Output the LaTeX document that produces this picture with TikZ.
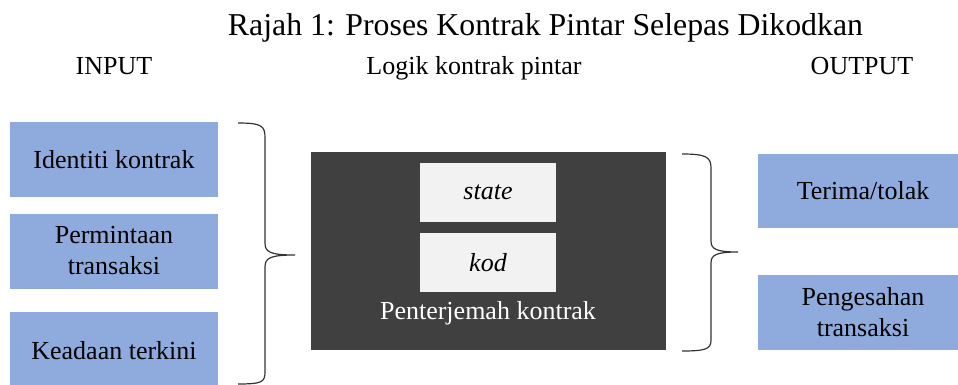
\documentclass[tikz,border=0pt]{standalone}
\usepackage{fontspec}
\setmainfont{Liberation Serif}
\newfontfamily\diagfont{Liberation Serif}
\usepackage{tikz}
\usetikzlibrary{positioning}

\definecolor{inblue}{HTML}{8FAADC}
\definecolor{darkbox}{HTML}{404040}
\definecolor{lightbox}{HTML}{F2F2F2}

\begin{document}
\begin{tikzpicture}[x=1pt, y=-1pt,
    bluebox/.style={fill=inblue, minimum width=208pt, minimum height=75pt,
      inner sep=0pt, align=center, font=\diagfont\fontsize{26}{31}\selectfont},
    lightcell/.style={fill=lightbox, minimum width=136pt, minimum height=59pt,
      inner sep=0pt, font=\diagfont\fontsize{26}{31}\selectfont\itshape},
    headtext/.style={anchor=base, font=\diagfont\fontsize{26}{31}\selectfont},
    curly/.style={line width=1.2pt, draw=black!80}]
      \useasboundingbox (0, 0) rectangle (958, 385);
      \node[anchor=base, font=\diagfont\fontsize{31.8}{37}\selectfont] (title) at (545.5, 36)
        {Rajah 1: Proses Kontrak Pintar Selepas Dikodkan};
      \node[headtext] (inlabel) at (114, 75) {INPUT};
      \node[headtext] (logiklabel) at (474, 75) {Logik kontrak pintar};
      \node[headtext] (outlabel) at (862, 75) {OUTPUT};

      % input
      \node[bluebox] (in1) at (114, 159.5) {Identiti kontrak};
      \node[bluebox] (in2) at (114, 251) {Permintaan\\transaksi};
      \node[bluebox, minimum height=78pt] (in3) at (114, 351) {Keadaan terkini};
      \draw[curly] (238, 123) .. controls (262, 123) and (265, 126) .. (265, 138)
        -- (265, 243) .. controls (265, 252) and (270, 255) .. (295, 255)
        .. controls (270, 255) and (265, 258) .. (265, 267)
        -- (265, 372) .. controls (265, 382) and (262, 384) .. (238, 384);

      % logik
      \node[fill=darkbox, minimum width=355pt, minimum height=198pt, inner sep=0pt]
        (logik) at (488.5, 251) {};
      \node[lightcell] (state) at (488, 192.5) {state};
      \node[lightcell] (kod) at (488, 262.5) {kod};
      \node[text=white, font=\diagfont\fontsize{26}{31}\selectfont] (terjemah) at (488, 313)
        {Penterjemah kontrak};
      \draw[curly] (682, 154) .. controls (706, 154) and (711, 157) .. (711, 168)
        -- (711, 241) .. controls (711, 249) and (716, 252) .. (738, 252)
        .. controls (716, 252) and (711, 255) .. (711, 263)
        -- (711, 340) .. controls (711, 349) and (706, 351) .. (682, 351);

      % output
      \node[bluebox, minimum width=210pt, minimum height=74pt] (out1) at (863, 191) {Terima/tolak};
      \node[bluebox, minimum width=210pt] (out2) at (863, 312.5) {Pengesahan\\transaksi};
\end{tikzpicture}
\end{document}
